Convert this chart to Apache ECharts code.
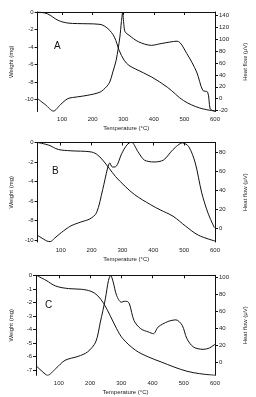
<!DOCTYPE html>
<html><head><meta charset="utf-8">
<script src="https://cdn.jsdelivr.net/npm/echarts@6/dist/echarts.min.js"></script>
<style>html,body{margin:0;padding:0;background:#fff}#c{width:256px;height:397px}</style>
</head><body><div id="c"></div>
<script>
// ---- Data ----
const xTicks = [100, 200, 300, 400, 500, 600];

const tempA_w = [20, 52, 87, 119, 150, 182, 224, 250, 271, 287, 303, 319, 340, 392, 445, 497, 550, 600];
const weightA = [0, -0.2, -0.95, -1.26, -1.32, -1.34, -1.41, -1.9, -2.86, -4.4, -5.5, -6.1, -6.5, -7.4, -8.6, -10.1, -10.95, -11.3];
const tempA_h = [20, 45, 72, 95, 119, 150, 182, 224, 245, 256, 266, 277, 289, 294, 298, 302, 306, 319, 350, 392, 424, 476, 508, 540, 560, 576, 584, 592, 600];
const heatA = [0, -10, -21, -10, 0, 3, 5.5, 11, 20, 28, 45, 65, 104, 130, 145, 125, 113, 107, 96, 90, 93, 97, 76, 45, 14, 11, -17, -20, -21];
const leftTicksA = [0, -2, -4, -6, -8, -10];
const rightTicksA = [-20, 0, 20, 40, 60, 80, 100, 120, 140];

const tempB_w = [25, 61, 92, 133, 195, 216, 236, 257, 278, 309, 340, 391, 422, 464, 505, 546, 600];
const weightB = [0, -0.27, -0.71, -0.85, -0.95, -1.19, -1.8, -2.64, -3.5, -4.5, -5.36, -6.37, -6.9, -7.56, -8.58, -9.5, -10.1];
const tempB_h = [25, 45, 56, 66, 80, 102, 133, 165, 195, 216, 236, 252, 259, 267, 278, 298, 315, 329, 350, 371, 402, 433, 464, 495, 515, 536, 557, 577, 598];
const heatB = [-7, -11, -13, -13.5, -10, -4, 3, 7, 10.4, 16.7, 41, 63.6, 69, 64.7, 65, 79, 88, 90.8, 81, 72, 70, 72, 83, 90, 86, 69, 37.6, 16.7, 1];
const leftTicksB = [0, -2, -4, -6, -8, -10];
const rightTicksB = [0, 20, 40, 60, 80];

const tempC_w = [28, 59, 90, 131, 172, 203, 223, 244, 264, 285, 305, 346, 387, 428, 469, 510, 551, 600];
const weightC = [0, -0.37, -0.79, -0.98, -1.03, -1.18, -1.47, -2.09, -2.95, -3.93, -4.67, -5.53, -6.02, -6.39, -6.76, -7.07, -7.25, -7.37];
const tempC_h = [28, 49, 64, 90, 120, 162, 192, 218, 233, 249, 259, 266, 274, 285, 300, 310, 318, 326, 341, 362, 387, 403, 418, 449, 475, 495, 510, 531, 562, 582, 600];
const heatC = [-4.7, -11.9, -15.8, -7.9, 2, 6.7, 11.9, 23.7, 47.4, 75, 96.8, 102.8, 95, 79, 71, 72, 72, 69, 49, 39.5, 35.6, 33.6, 41.5, 48, 50, 43.5, 27.7, 17.8, 15, 16.6, 21];
const leftTicksC = [0, -1, -2, -3, -4, -5, -6, -7];
const rightTicksC = [0, 20, 40, 60, 80, 100];

const panelLabels = ['A', 'B', 'C'];
const xName = 'Temperature (°C)';
const leftName = 'Weight (mg)';
const rightName = 'Heat flow (μV)';

// ---- Chart ----
const zip = (a, b) => a.map((v, i) => [v, b[i]]);
const FONT = 'Liberation Sans';
const txt = {fontFamily: FONT, fontSize: 6, color: '#222'};
const lineStyle = {color: '#111', width: 1};

const panels = [
  {grid: {left: 32, top: 12, width: 185, height: 99.5}, xmin: 20, lmin: -11.35, lmax: 0, rmin: -21.7, rmax: 146.3,
   lt: leftTicksA, rt: rightTicksA, w: zip(tempA_w, weightA), h: zip(tempA_h, heatA)},
  {grid: {left: 32, top: 142.5, width: 186, height: 99.5}, xmin: 25, lmin: -10.2, lmax: 0, rmin: -13.9, rmax: 90.4,
   lt: leftTicksB, rt: rightTicksB, w: zip(tempB_w, weightB), h: zip(tempB_h, heatB)},
  {grid: {left: 29.5, top: 275.3, width: 187.2, height: 100}, xmin: 27, lmin: -7.37, lmax: 0, rmin: -15.8, rmax: 102.9,
   lt: leftTicksC, rt: rightTicksC, w: zip(tempC_w, weightC), h: zip(tempC_h, heatC)}
];

const grid = [], xAxis = [], yAxis = [], series = [], graphic = [];
panels.forEach((p, i) => {
  grid.push(Object.assign({containLabel: false}, p.grid));
  xAxis.push({type: 'value', gridIndex: i, min: p.xmin, max: 600,
    name: xName, nameLocation: 'middle', nameGap: 14, nameTextStyle: txt,
    axisLine: {show: true, lineStyle: {color: '#111', width: 1}},
    axisTick: {show: true, length: 3, customValues: xTicks, lineStyle: {color: '#111'}},
    axisLabel: Object.assign({customValues: xTicks, margin: 5}, txt),
    splitLine: {show: false}});
  yAxis.push({type: 'value', gridIndex: i, position: 'left', min: p.lmin, max: p.lmax,
    name: leftName, nameLocation: 'middle', nameGap: 22, nameRotate: 90, nameTextStyle: txt,
    axisLine: {show: true, lineStyle: {color: '#111', width: 1}},
    axisTick: {show: true, length: 3, customValues: p.lt, lineStyle: {color: '#111'}},
    axisLabel: Object.assign({customValues: p.lt, margin: 4}, txt),
    splitLine: {show: false}});
  yAxis.push({type: 'value', gridIndex: i, position: 'right', min: p.rmin, max: p.rmax,
    name: rightName, nameLocation: 'middle', nameGap: 27, nameRotate: 90, nameTextStyle: txt,
    axisLine: {show: true, onZero: false, lineStyle: {color: '#111', width: 1}},
    axisTick: {show: true, length: 3, customValues: p.rt, lineStyle: {color: '#111'}},
    axisLabel: Object.assign({customValues: p.rt, margin: 4}, txt),
    splitLine: {show: false}});
  series.push({type: 'line', xAxisIndex: i, yAxisIndex: 2 * i, data: p.w, smooth: 0.35,
    showSymbol: false, lineStyle: lineStyle, clip: true, silent: true});
  series.push({type: 'line', xAxisIndex: i, yAxisIndex: 2 * i + 1, data: p.h, smooth: 0.3,
    showSymbol: false, lineStyle: lineStyle, clip: true, silent: true});
});

const letterPos = [[54, 41], [52, 166], [45, 300]];
panelLabels.forEach((t, i) => {
  graphic.push({type: 'text', left: letterPos[i][0], top: letterPos[i][1],
    style: {text: t, fontFamily: FONT, fontSize: 10, fill: '#111'}});
});

const chart = echarts.init(document.getElementById('c'), null, {renderer: 'canvas'});
chart.setOption({animation: false, backgroundColor: '#fff', grid, xAxis, yAxis, series, graphic});
</script></body></html>
